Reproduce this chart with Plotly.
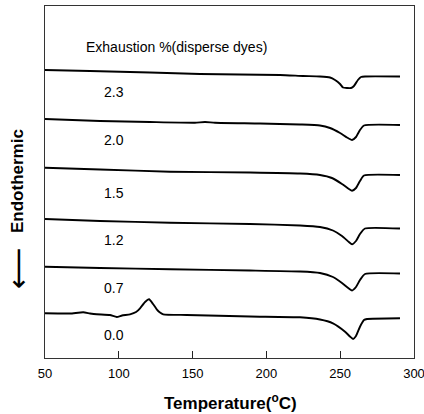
import plotly.graph_objects as go

# Temperature (°C) points and heat-flow (a.u., curves stacked) for each sample
t_23 = [50, 80.5, 121.1, 155, 209.2, 224.8, 236.3, 243.1, 246.5, 249.9, 251.9, 254.6, 257.3, 259.3, 262, 264.1, 266.8, 290.5]
h_23 = [288, 287, 285.5, 284, 283, 282, 281.5, 280.5, 278, 274, 270.5, 270, 270, 272, 278, 281, 281.5, 281.5]

t_20 = [50, 87.3, 121.1, 151.6, 158.4, 165.2, 195.7, 222.8, 236.3, 243.1, 249.9, 254.6, 258, 260.7, 263.4, 266.1, 290.5]
h_20 = [239, 237, 236, 235.3, 236, 235.2, 234.5, 233.5, 232.5, 230, 225, 220.5, 218, 221, 228, 232.5, 233]

t_15 = [50, 87.3, 134.7, 188.9, 222.8, 236.3, 244.4, 251.2, 255.9, 258, 260.7, 263.4, 266.1, 290.5]
h_15 = [190.3, 188.5, 186.3, 185.5, 184.5, 183, 180, 174, 169, 167.3, 170, 177, 182.5, 183]

t_12 = [50, 87.3, 134.7, 188.9, 222.8, 236.3, 245.1, 251.2, 255.9, 258, 260.7, 263.4, 266.8, 290.5]
h_12 = [139, 137, 135.3, 134, 132.5, 131, 127.5, 122, 116, 113.7, 117, 124, 129.5, 129.5]

t_07 = [50, 87.3, 134.7, 188.9, 222.8, 236.3, 245.1, 251.2, 255.9, 258, 260.7, 263.4, 266.8, 290.5]
h_07 = [91.3, 90, 88.7, 87.5, 86.5, 85, 81, 75, 69.5, 67.5, 71, 78, 84, 84.5]

t_00 = [50, 66.9, 75.9, 80.5, 85, 94, 98.6, 102.2, 107.6, 111.7, 114.4, 117.8, 120.5, 123.2, 125.7, 127.9, 130.1, 146,
        188.9, 222.8, 236.3, 245.1, 253.3, 256.6, 258.7, 260.7, 263.4, 266.1, 268.2, 290.5]
h_00 = [44.7, 44.5, 45.7, 44.5, 43.7, 43, 41, 42.5, 43.7, 46, 49.7, 56, 58.7, 54, 48.7, 45.5, 43.7, 43,
        41.5, 40.7, 38.5, 34.7, 26.3, 21.5, 19, 22, 31.3, 38, 39, 39.7]

labels = ["2.3", "2.0", "1.5", "1.2", "0.7", "0.0"]
label_y = [266.3, 218, 165, 118, 70, 23]
label_x = 88.6
legend_title = "Exhaustion %(disperse dyes)"
legend_title_xy = (76.4, 311.3)

series = [(t_23, h_23), (t_20, h_20), (t_15, h_15), (t_12, h_12), (t_07, h_07), (t_00, h_00)]

FONT = "Liberation Sans, Arial, sans-serif"

fig = go.Figure()
for (t, h), name in zip(series, labels):
    fig.add_trace(go.Scatter(x=t, y=h, mode="lines", name=name,
                             line=dict(color="black", width=1.9, shape="spline", smoothing=0.5),
                             showlegend=False, hoverinfo="skip"))

annotations = [dict(x=legend_title_xy[0], y=legend_title_xy[1], xref="x", yref="y", text=legend_title,
                    showarrow=False, xanchor="left", yanchor="middle",
                    font=dict(family=FONT, size=14, color="black"))]
for name, yy in zip(labels, label_y):
    annotations.append(dict(x=label_x, y=yy, xref="x", yref="y", text=name, showarrow=False,
                            xanchor="left", yanchor="middle",
                            font=dict(family=FONT, size=14, color="black")))

# axis titles
annotations.append(dict(x=0.503, y=-0.125, xref="paper", yref="paper",
                        text="<b>Temperature(<sup>o</sup>C)</b>", showarrow=False,
                        xanchor="center", yanchor="middle",
                        font=dict(family=FONT, size=17, color="black")))
annotations.append(dict(x=-0.073, y=0.503, xref="paper", yref="paper",
                        text="<b>Endothermic</b>", showarrow=False, textangle=-90,
                        xanchor="center", yanchor="middle",
                        font=dict(family=FONT, size=17, color="black")))
annotations.append(dict(x=-0.073, y=0.255, xref="paper", yref="paper",
                        text="⟵", showarrow=False, textangle=-90,
                        xanchor="center", yanchor="middle",
                        font=dict(family="DejaVu Sans", size=29, color="black")))

fig.update_layout(
    width=424, height=414,
    margin=dict(l=45, r=10, t=6, b=56, autoexpand=False),
    paper_bgcolor="white", plot_bgcolor="white",
    font=dict(family=FONT, size=13, color="black"),
    annotations=annotations,
    xaxis=dict(range=[50, 300], tickvals=[50, 100, 150, 200, 250, 300],
               ticks="inside", ticklen=7, tickwidth=1, tickcolor="#222",
               ticklabeloverflow="allow", ticklabelstandoff=3, automargin=False,
               showline=True, linecolor="#333", linewidth=1, mirror=True,
               showgrid=False, zeroline=False,
               tickfont=dict(family=FONT, size=13, color="black")),
    yaxis=dict(range=[0, 352], showticklabels=False, ticks="", automargin=False,
               showline=True, linecolor="#333", linewidth=1, mirror=True,
               showgrid=False, zeroline=False),
)

fig.write_html("out.html", config={"displayModeBar": False, "staticPlot": True},
               post_script="document.body.style.margin='0';document.body.style.overflow='hidden';")
